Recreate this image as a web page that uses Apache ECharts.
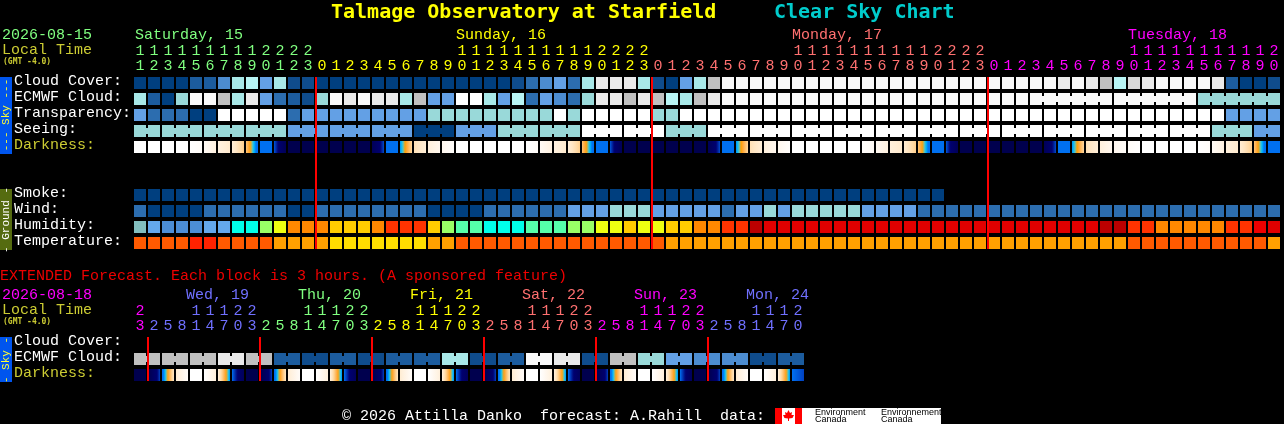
<!DOCTYPE html>
<html><head><meta charset="utf-8">
<style>html,body{margin:0;padding:0;background:#000}#c{width:1284px;height:424px}</style>
<script src="https://cdn.jsdelivr.net/npm/echarts@6/dist/echarts.min.js"></script>
</head><body><div id="c"></div>
<script>
// ---- tick labels ----
const hours = [11,12,13,14,15,16,17,18,19,20,21,22,23,
 0,1,2,3,4,5,6,7,8,9,10,11,12,13,14,15,16,17,18,19,20,21,22,23,
 0,1,2,3,4,5,6,7,8,9,10,11,12,13,14,15,16,17,18,19,20,21,22,23,
 0,1,2,3,4,5,6,7,8,9,10,11,12,13,14,15,16,17,18,19,20];
const extHours = [23,2,5,8,11,14,17,20,23,2,5,8,11,14,17,20,23,2,5,8,11,14,17,20,23,2,5,8,11,14,17,20,23,2,5,8,11,14,17,20,23,2,5,8,11,14,17,20];
const rowNames = ['Cloud Cover:','ECMWF Cloud:','Transparency:','Seeing:','Darkness:','','','Smoke:','Wind:','Humidity:','Temperature:'];
const extRowNames = ['Cloud Cover:','ECMWF Cloud:','Darkness:'];
const dayLabels = ['Saturday, 15','Sunday, 16','Monday, 17','Tuesday, 18'];
const dayCols = [0,23,47,71];
const dayStarts = [0,13,37,61];
const dayColors = ['#80ff80','#ffff00','#ff7070','#ff00ff'];
const extDayLabels = ['Wed, 19','Thu, 20','Fri, 21','Sat, 22','Sun, 23','Mon, 24'];
const extDayCols = [4,12,20,28,36,44];
const extDayStarts = [0,1,9,17,25,33,41];
const extDayColors = ['#ff00ff','#7070ff','#80ff80','#ffff00','#ff7070','#ff00ff','#7070ff'];
const midnights = [13,37,61];
const extMidnights = [1,9,17,25,33,41];

// ---- sky levels, read block by block ----
const cloud = [0,0,0,0,2,2,4,7,8,5,7,1,1,0,0,0,0,0,0,0,0,0,0,0,0,0,0,1,3,4,5,3,7,11,11,11,7,1,0,5,7,9,
 12,12,12,12,12,12,12,12,12,12,12,12,12,12,12,12,12,12,12,12,12,12,12,12,11,12,11,9,8,10,11,12,12,12,12,11,2,0,0,1];
const ecmwf = [7,2,0,6,12,12,9,7,11,5,3,2,1,6,12,11,12,11,11,7,9,5,5,13,13,7,5,8,3,5,4,3,6,11,11,9,11,9,8,7,9,11,
 12,12,12,12,12,12,12,12,12,12,12,12,12,12,12,12,12,12,12,12,12,12,12,12,12,12,12,12,12,12,12,12,12,12,6,6,6,6,6,6];
const transparency = [5,3,3,3,0,0,13,13,13,13,13,3,5,5,5,5,5,5,5,5,5,6,6,6,6,6,6,6,6,6,13,6,13,13,13,13,13,6,6,
 13,13,13,13,13,13,13,13,13,13,13,13,13,13,13,13,13,13,13,13,13,13,13,13,13,13,13,13,13,13,13,13,13,13,13,13,13,13,13,5,5,5,5];
const seeing = [6,6,6,6,6,6,6,6,6,6,6,5,5,5,5,5,5,5,5,5,0,0,0,5,5,5,6,6,6,6,6,6,13,13,13,13,13,13,6,6,6,
 13,13,13,13,13,13,13,13,13,13,13,13,13,13,13,13,13,13,13,13,13,13,13,13,13,13,13,13,13,13,13,13,13,13,13,13,6,6,6,5,5];
const smoke = [0,0,0,0,0,0,0,0,0,0,0,0,0,0,0,0,0,0,0,0,0,0,0,0,0,0,0,0,0,0,0,0,0,0,0,0,0,0,0,0,0,0,0,0,0,0,0,0,0,0,0,0,0,0,0,0,0,0];
const wind = [3,0,0,0,0,3,3,3,3,3,3,0,0,3,3,3,3,3,3,3,3,0,0,0,0,3,3,3,3,3,3,5,5,5,6,6,6,5,5,5,5,5,3,5,5,6,5,6,6,6,6,6,5,5,5,5,
 3,3,3,3,3,3,3,3,3,3,3,3,3,3,3,3,3,3,3,3,3,3,3,3,3,3];
const humidity = [50,45,40,40,40,45,45,55,55,65,70,80,80,80,75,75,75,80,85,85,85,75,65,60,60,55,55,55,60,60,60,65,65,70,70,75,70,70,75,75,80,80,85,85,100,
 95,95,95,95,95,95,95,95,95,95,95,95,95,95,95,95,95,95,95,95,95,95,95,95,100,100,85,85,80,80,80,80,80,85,85,90,95];
const temperature = [27,27,27,27,30,30,27,27,27,27,24,24,24,24,21,21,21,21,21,21,21,24,24,27,27,27,27,27,27,27,27,27,27,27,27,27,27,27,
 24,24,24,24,24,24,24,24,24,24,24,24,24,24,24,24,24,24,24,24,24,24,24,24,24,24,24,24,24,24,24,24,24,
 27,27,27,27,27,27,27,27,27,27,24];
const darkFrom = [8,8,8,8,8,7.7,7.1,6.9,5.6,3,2.8,0,0,0,0,0,0,.5,3,3.6,6.3,7,7.5,8,8,8,8,8,8,7.7,7.1,6.9,5.6,3,2.8,0,0,0,0,0,0,.5,3,3.6,6.3,7,7.5,
 8,8,8,8,8,7.9,7.6,7,6.8,5.6,3,2.8,0,0,0,0,0,0,.5,3,3.6,6.3,7,7.5,7.8,8,8,8,8,8,7.7,7,6.8,5.6,3];
const darkTo = [8,8,8,8,7.8,7.1,6.7,5.8,3,3,.5,0,0,0,0,0,0,2.7,3,6,6.9,7.5,7.9,8,8,8,8,8,7.8,7.1,6.7,5.8,3,3,.5,0,0,0,0,0,0,2.7,3,6,6.9,7.5,7.9,
 8,8,8,8,8,7.7,7.1,6.7,5.8,3,3,.5,0,0,0,0,0,0,2.7,3,6,6.9,7.5,7.8,8,8,8,8,8,7.8,7.1,6.7,5.8,3,3];
const extEcmwf = [9,9,9,9,9,9,11,11,9,9,2,2,1,1,2,2,1,1,2,2,2,2,7,7,1,1,2,2,12,12,11,11,1,1,9,9,6,6,5,5,4,4,4,4,1,1,2,2];
const extDarkFrom = [0,0,3,6.8,8,8,7,3, 0,0,3,6.8,8,8,7,3, 0,0,3,6.8,8,8,7,3, 0,0,3,6.8,8,8,7,3, 0,0,3,6.8,8,8,7,3, 0,0,3,6.8,8,8,7,3];
const extDarkTo = [0,2.6,6.5,7.8,8,7,3.6,.8, 0,2.6,6.5,7.8,8,7,3.6,.8, 0,2.6,6.5,7.8,8,7,3.6,.8, 0,2.6,6.5,7.8,8,7,3.6,.8, 0,2.6,6.5,7.8,8,7,3.6,.8, 0,2.6,6.5,7.8,8,7,3.6,2.6];

// ---- colour keys ----
const skyPalette = ['#003F7F','#0F4C8C','#1C5C9E','#2C6DAF','#4C8CD0','#63A0E5','#99D9D9','#A8E8E8','#B8F5F5','#C0C0C0','#D8D8D8','#EAEAEA','#F9F9F9','#FFFFFF'];
const humidityColors = {40:'#4C8ED6',45:'#64A8EC',50:'#82BEBE',55:'#00FFEA',60:'#55FFAA',65:'#99FF66',70:'#EEFF11',75:'#FFCC00',80:'#FF8800',85:'#FF3300',90:'#EE0000',95:'#E00000',100:'#BB0000'};
const temperatureColors = {21:'#FFDD00',24:'#FFA000',27:'#FF5A00',30:'#FF2200'};
const darkRamp = [[0,'#00004E'],[2,'#000070'],[2.6,'#0040C0'],[3,'#0070F0'],[3.4,'#0070F0'],[3.9,'#00C0FF'],[4.3,'#7FC0A0'],[4.6,'#FFA000'],[5,'#FFA838'],[6,'#FFD8A0'],[6.5,'#FFE6C4'],[7,'#FFF0DC'],[7.5,'#FFF7EE'],[8,'#FFFFFF']];

// block groupings: widths of the blocks joined by a neck
function blockLinks(sizes){const l=[];sizes.forEach(s=>{for(let i=0;i<s;i++)l.push(i<s-1?1:0);});return l;}
const seeingBlocks = [2,3,3,3,3,3,3,3,3,3,3,3,3,3,3,3,3,3,3,3,3,3,3,3,3,3,3,2];
const ecmwfBlocks = Array(64).fill(1).concat([6,6,6]);
const extBlocks = Array(24).fill(2);

function hex(c){return [1,3,5].map(i=>parseInt(c.substr(i,2),16));}
function rampColor(v){
  for(let i=1;i<darkRamp.length;i++){
    if(v<=darkRamp[i][0]){
      const a=darkRamp[i-1],b=darkRamp[i],t=(v-a[0])/(b[0]-a[0]),p=hex(a[1]),q=hex(b[1]);
      return 'rgb('+p.map((x,k)=>Math.round(x+(q[k]-x)*t)).join(',')+')';
    }
  }
  return '#FFFFFF';
}
function darkFill(a,b){
  if(a===b) return rampColor(a);
  const stops=[];const n=12;
  for(let i=0;i<=n;i++) stops.push({offset:i/n,color:rampColor(a+(b-a)*(i/n))});
  return {type:'linear',x:0,y:0,x2:1,y2:0,colorStops:stops};
}

// build the cell tables: [column, row, fill-index, neck]
const fills=[];
function addRow(cells,row,arr,colorOf,links){
  arr.forEach((v,i)=>{fills.push(colorOf(v,i));cells.push([i,row,fills.length-1,links&&links[i]?1:0]);});
}
const sky=v=>skyPalette[v];
const mainCells=[];
addRow(mainCells,0,cloud,sky);
addRow(mainCells,1,ecmwf,sky,blockLinks(ecmwfBlocks));
addRow(mainCells,2,transparency,sky);
addRow(mainCells,3,seeing,sky,blockLinks(seeingBlocks));
addRow(mainCells,4,darkFrom,(v,i)=>darkFill(v,darkTo[i]));
addRow(mainCells,7,smoke,sky);
addRow(mainCells,8,wind,sky);
addRow(mainCells,9,humidity,v=>humidityColors[v]);
addRow(mainCells,10,temperature,v=>temperatureColors[v]);
const extCells=[];
addRow(extCells,1,extEcmwf,sky,blockLinks(extBlocks));
addRow(extCells,2,extDarkFrom,(v,i)=>darkFill(v,extDarkTo[i]));

function renderCell(params,api){
  const c=api.coord([api.value(0),api.value(1)]);
  const fill=fills[api.value(2)];
  const kids=[{type:'rect',shape:{x:c[0]-6,y:c[1]-6,width:12,height:12},style:{fill:fill}}];
  if(api.value(3)) kids.push({type:'rect',shape:{x:c[0]+6,y:c[1]-3,width:2,height:6},style:{fill:typeof fill==='string'?fill:'#fff'}});
  return {type:'group',children:kids};
}
function renderRed(lastRow){
  return function(params,api){
    const a=api.coord([api.value(0),0]),b=api.coord([api.value(0),lastRow]);
    return {type:'rect',shape:{x:a[0]-7,y:a[1]-6,width:2,height:b[1]-a[1]+12},style:{fill:'#FF0000'}};
  };
}
function renderDay(labels,colors,dx){
  return function(params,api){
    const i=params.dataIndex,c=api.coord([api.value(0),0]);
    return {type:'text',style:{text:labels[i],x:c[0]-6+dx[i],y:c[1]-48,fill:colors[i],font:FONT,verticalAlign:'middle',align:'left'}};
  };
}
const FONT='15px "Liberation Mono"';
const colorAt=(starts,colors)=>(v,i)=>{let k=0;starts.forEach((s,j)=>{if(i>=s)k=j;});return colors[k];};
const mainColor=colorAt(dayStarts,dayColors), extColor=colorAt(extDayStarts,extDayColors);
function xAxisFor(grid,data,isTens,colorFn){
  return {type:'category',gridIndex:grid,position:'top',data:data.map(String),offset:isTens?15:0,
    axisLine:{show:false},axisTick:{show:false},splitLine:{show:false},
    axisLabel:{interval:0,hideOverlap:false,margin:1,fontFamily:'Liberation Mono',fontSize:15,lineHeight:15,
      color:colorFn,formatter:v=>isTens?(Number(v)>=10?String(Math.floor(Number(v)/10)):''):String(Number(v)%10)}};
}
function yAxisFor(grid,data){
  return {type:'category',gridIndex:grid,inverse:true,data:data,
    axisLine:{show:false},axisTick:{show:false},splitLine:{show:false},
    axisLabel:{interval:0,align:'left',verticalAlign:'bottom',lineHeight:4,margin:119,fontFamily:'Liberation Mono',fontSize:15,
      color:v=>v==='Darkness:'?'#CCCC33':'#FFFFFF'}};
}
function txt(text,x,y,fill,font,extra){
  return Object.assign({type:'text',x:x,y:y,silent:true,style:{text:text,fill:fill,font:font||FONT,verticalAlign:'middle',align:'left'}},extra||{});
}
function vtxt(text,x,y,fill,font){
  return {type:'text',x:x,y:y,rotation:Math.PI/2,silent:true,style:{text:text,fill:fill,font:font,align:'center',verticalAlign:'middle'}};
}
function box(x,y,w,h,fill){return {type:'rect',silent:true,shape:{x:x,y:y,width:w,height:h},style:{fill:fill}};}
const SMALL='bold 8px "DejaVu Sans Mono"';
const SIDE='11px "Liberation Mono"';

const chart=echarts.init(document.getElementById('c'),null,{renderer:'canvas',width:1284,height:424});
chart.setOption({
  animation:false,backgroundColor:'#000000',
  grid:[{left:133,top:75,width:1148,height:176},{left:133,top:335,width:672,height:48}],
  xAxis:[xAxisFor(0,hours,false,mainColor),xAxisFor(0,hours,true,mainColor),xAxisFor(1,extHours,false,extColor),xAxisFor(1,extHours,true,extColor)],
  yAxis:[yAxisFor(0,rowNames),yAxisFor(1,extRowNames)],
  series:[
    {type:'custom',xAxisIndex:0,yAxisIndex:0,data:mainCells,renderItem:renderCell,silent:true,z:2},
    {type:'custom',xAxisIndex:2,yAxisIndex:1,data:extCells,renderItem:renderCell,silent:true,z:2},
    {type:'custom',xAxisIndex:0,yAxisIndex:0,data:midnights.map(m=>[m]),renderItem:renderRed(10),silent:true,z:5},
    {type:'custom',xAxisIndex:2,yAxisIndex:1,data:extMidnights.map(m=>[m]),renderItem:renderRed(2),silent:true,z:5},
    {type:'custom',xAxisIndex:0,yAxisIndex:0,data:dayCols.map(m=>[m]),renderItem:renderDay(dayLabels,dayColors,[1,0,0,0]),silent:true,z:5},
    {type:'custom',xAxisIndex:2,yAxisIndex:1,data:extDayCols.map(m=>[m]),renderItem:renderDay(extDayLabels,extDayColors.slice(1),[-4,-4,-4,-4,-4,-4]),silent:true,z:5}
  ],
  graphic:{elements:[
    txt('Talmage Observatory at Starfield',331,13,'#FFFF00','bold 20px "DejaVu Sans Mono"'),
    txt('Clear Sky Chart',774,13,'#00CCCC','bold 20px "DejaVu Sans Mono"'),
    txt('2026-08-15',2,35,'#80FF80'),
    txt('Local Time',2,50,'#CCCC33'),
    txt('(GMT -4.0)',3,62,'#CCCC33',SMALL),
    box(0,77,12,77,'#0055EE'),
    vtxt('--- Sky ---',6,115,'#FFFF33',SIDE),
    box(0,189,12,61,'#556B10'),
    vtxt('- Ground -',6,220,'#FFFFFF',SIDE),
    txt('EXTENDED Forecast. Each block is 3 hours. (A sponsored feature)',0,276,'#EE0000'),
    txt('2026-08-18',2,295,'#FF00FF'),
    txt('Local Time',2,310,'#CCCC33'),
    txt('(GMT -4.0)',3,322,'#CCCC33',SMALL),
    box(0,337,12,45,'#0055EE'),
    vtxt('- Sky -',6,360,'#FFFF33',SIDE),
    txt('\u00A9 2026 Attilla Danko  forecast: A.Rahill  data:',342,416,'#FFFFFF'),
    box(775,408,166,16,'#FFFFFF'),
    box(775,408,7,16,'#FF0000'),
    box(795,408,7,16,'#FF0000'),
    {type:'polygon',silent:true,shape:{points:[[788.5,410],[790,413],[792,412],[791.5,415],[794,415],[792.5,418],[789,418.5],[789,421],[788,421],[788,418.5],[784.5,418],[783,415],[785.5,415],[785,412],[787,413]]},style:{fill:'#FF0000'}},
    txt('Environment',815,412.5,'#000000','9px "Liberation Sans"'),
    txt('Canada',815,420,'#000000','9px "Liberation Sans"'),
    txt('Environnement',881,412.5,'#000000','9px "Liberation Sans"'),
    txt('Canada',881,420,'#000000','9px "Liberation Sans"')
  ]}
});
</script></body></html>
